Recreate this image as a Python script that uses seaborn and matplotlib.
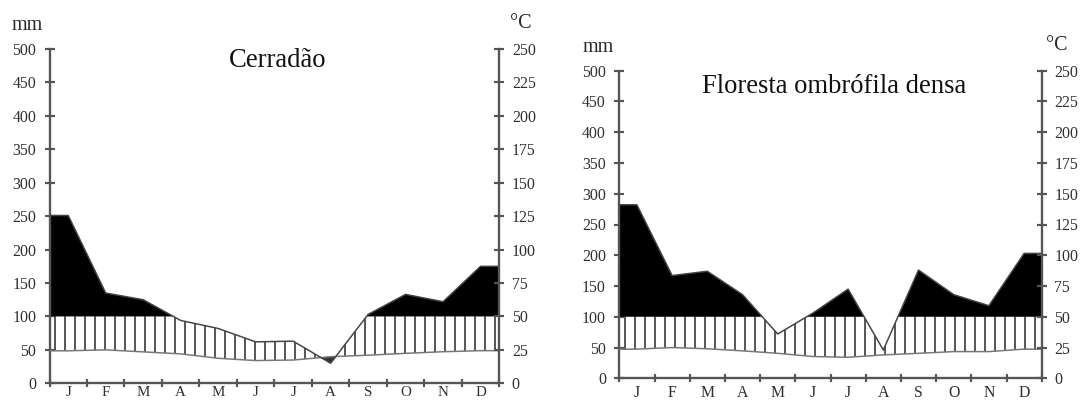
import matplotlib
matplotlib.use("Agg")
import matplotlib.pyplot as plt
import numpy as np
import pandas as pd
import seaborn as sns

# monthly means: precipitation (mm) and temperature (deg C)
months = ["J", "F", "M", "A", "M", "J", "J", "A", "S", "O", "N", "D"]

cerradao_prec = [251, 135, 125, 94, 82, 62, 63, 30, 103, 133, 122, 175]
cerradao_temp = [24.3, 25.0, 23.5, 22.0, 18.7, 17.0, 17.4, 19.9, 21.0, 22.4, 23.6, 24.4]

floresta_prec = [282, 167, 174, 136, 72, 106, 145, 46, 176, 136, 118, 203]
floresta_temp = [23.7, 25.0, 24.0, 22.3, 20.3, 17.7, 17.1, 19.0, 20.3, 21.7, 21.7, 23.7]

panels = [
    ("Cerradão", cerradao_prec, cerradao_temp),
    ("Floresta ombrófila densa", floresta_prec, floresta_temp),
]

DPI = 120
W, H = 1083, 403

sns.set_theme(style="white")
plt.rcParams["font.family"] = ["Liberation Serif", "DejaVu Serif"]
plt.rcParams["hatch.linewidth"] = 0.9

AX_COLOR = "#555555"
LBL_COLOR = "#2e2e2e"


def px_rect(left, right, top, bottom):
    return [left / W, 1 - bottom / H, (right - left) / W, (bottom - top) / H]


def to_frame(prec, temp):
    # line runs flat from the axis edge to the first / last month centre
    x = [0.0] + [i + 0.5 for i in range(12)] + [12.0]
    p = [prec[0]] + list(prec) + [prec[-1]]
    t = [temp[0]] + list(temp) + [temp[-1]]
    df = pd.DataFrame({"x": x, "prec": p, "temp": t})
    df["temp_mm"] = df["temp"] * 2
    return df


def draw_panel(fig, rect, title, prec, temp, title_y, xpad, xsize):
    ax = fig.add_axes(rect)
    df = to_frame(prec, temp)
    x = df["x"].values
    p = df["prec"].values
    t2 = df["temp_mm"].values

    # perhumid part (> 100 mm) in black
    ax.fill_between(x, 100, p, where=p >= 100, interpolate=True,
                    facecolor="black", edgecolor="none", lw=0, zorder=2)

    # humid period: vertical hatching between temperature and min(prec, 100)
    under = ax.fill_between(x, 0, p, facecolor="none", edgecolor="none", lw=0)
    hatch = ax.fill_between(x, t2, 100, where=t2 < 100, interpolate=True,
                            facecolor="none", edgecolor="#222222", hatch="||",
                            lw=0, zorder=2)
    hatch.set_clip_path(under.get_paths()[0], ax.transData)

    # arid period
    ax.fill_between(x, p, t2, where=p < t2, interpolate=True,
                    facecolor="#333333", edgecolor="none", lw=0, zorder=2)

    sns.lineplot(data=df, x="x", y="temp_mm", ax=ax, color="#777777",
                 lw=0.9, zorder=3, estimator=None, sort=False)
    sns.lineplot(data=df, x="x", y="prec", ax=ax, color="#444444",
                 lw=0.9, zorder=3, estimator=None, sort=False)

    ax.set_xlim(0, 12)
    ax.set_ylim(0, 500)
    ax.set_xlabel("")
    ax.set_ylabel("")
    ax.set_yticks(range(0, 501, 50))
    ax.set_xticks(range(13))
    ax.set_xticklabels([])
    ax.set_xticks(np.arange(12) + 0.5, minor=True)
    ax.set_xticklabels(months, minor=True)

    for side in ["top", "right"]:
        ax.spines[side].set_visible(False)
    for side in ["left", "bottom"]:
        ax.spines[side].set_color(AX_COLOR)
        ax.spines[side].set_linewidth(1.4)

    ax.tick_params(axis="y", which="major", direction="inout", length=6,
                   width=1.3, color=AX_COLOR, labelcolor=LBL_COLOR,
                   labelsize=9.5, pad=5.0, left=True)
    ax.tick_params(axis="x", which="major", direction="inout", length=5,
                   width=1.3, color=AX_COLOR, bottom=True)
    ax.tick_params(axis="x", which="minor", length=0, labelsize=xsize,
                   labelcolor=LBL_COLOR, pad=xpad, bottom=True)

    ax2 = ax.twinx()
    ax2.set_ylim(0, 250)
    ax2.set_yticks(range(0, 251, 25))
    ax2.grid(False)
    for side in ["top", "left", "bottom"]:
        ax2.spines[side].set_visible(False)
    ax2.spines["right"].set_color(AX_COLOR)
    ax2.spines["right"].set_linewidth(1.4)
    ax2.tick_params(axis="y", direction="inout", length=6, width=1.3,
                    color=AX_COLOR, labelcolor=LBL_COLOR, labelsize=9.5,
                    pad=4.5, right=True)

    ax.text(0.508, title_y, title, transform=ax.transAxes, ha="center",
            va="center", fontsize=16, color="#111111")
    return ax


fig = plt.figure(figsize=(W / DPI, H / DPI), dpi=DPI)

draw_panel(fig, px_rect(49.5, 499.3, 49, 383.3), panels[0][0], panels[0][1],
           panels[0][2], 0.967, 1.5, 9)
draw_panel(fig, px_rect(619.3, 1041.7, 70.7, 378.3), panels[1][0], panels[1][1],
           panels[1][2], 0.950, 4.0, 9.5)

# unit labels above the axes
fig.text(27 / W, 1 - 25 / H, "mm", ha="center", va="center", fontsize=12)
fig.text(521 / W, 1 - 24 / H, "°C", ha="center", va="center", fontsize=12)
fig.text(598 / W, 1 - 47 / H, "mm", ha="center", va="center", fontsize=12)
fig.text(1057 / W, 1 - 45 / H, "°C", ha="center", va="center", fontsize=12)

fig.savefig("out.png", dpi=DPI)
